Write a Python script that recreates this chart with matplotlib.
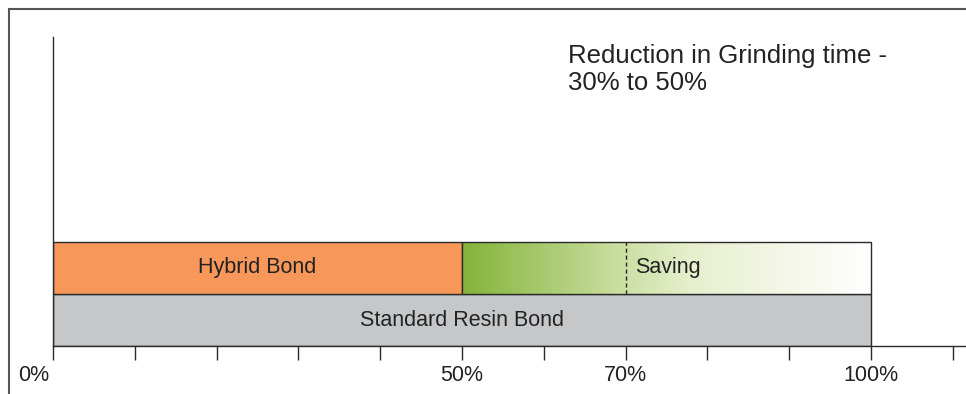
import numpy as np
import matplotlib
matplotlib.use('Agg')
import matplotlib.pyplot as plt
from matplotlib.colors import LinearSegmentedColormap
from matplotlib.lines import Line2D
from matplotlib.transforms import ScaledTranslation

plt.rcParams['font.family'] = ['Liberation Sans', 'DejaVu Sans']

# ---- data ----
std_label, std_value = 'Standard Resin Bond', 100
hyb_label, hyb_value = 'Hybrid Bond', 50
saving_label = 'Saving'
saving_mark = 70            # dashed line inside the saving block
tick_pos = list(range(0, 111, 10))
tick_lbl = {0: '0%', 50: '50%', 70: '70%', 100: '100%'}
note = 'Reduction in Grinding time -\n30% to 50%'

# gradient of the saving block (position in %, colour)
grad_stops = [(50, '#84b43a'), (70, '#cde0a6'), (78, '#e7efcd'), (100, '#ffffff')]

ORANGE = '#f8975a'
GREY = '#c6c7c9'
EDGE = '#2a2a2a'
TXT = '#222222'

W, H = 966, 394
fig = plt.figure(figsize=(W / 100, H / 100), dpi=100)
# axes: left 53px, bottom 346px, top 37px, runs to right edge
ax = fig.add_axes([53 / W, (H - 346) / H, 1 - 53 / W, (346 - 37) / H])
ax.set_xlim(0, (W - 53) / 8.18)
ax.set_ylim(0, 309 / 52)

# standard bar (y 0..1) and hybrid bar (y 1..2)
ax.barh(0.5, std_value, height=1, left=0, color=GREY, edgecolor=EDGE, lw=1, zorder=2)
ax.barh(1.5, hyb_value, height=1, left=0, color=ORANGE, edgecolor=EDGE, lw=1, zorder=2)

# saving block with gradient
g0, g1 = hyb_value, std_value
cmap = LinearSegmentedColormap.from_list(
    'sav', [((p - g0) / (g1 - g0), c) for p, c in grad_stops])
grad = np.linspace(0, 1, 400).reshape(1, -1)
ax.imshow(grad, cmap=cmap, extent=(g0, g1, 1, 2), aspect='auto', zorder=2,
          interpolation='bilinear')
ax.barh(1.5, g1 - g0, height=1, left=g0, fill=False, edgecolor=EDGE, lw=1, zorder=3)
ax.plot([saving_mark, saving_mark], [1, 2], color=EDGE, lw=1,
        ls=(0, (3, 2)), zorder=3)

ax.text(hyb_value / 2, 1.5, hyb_label, ha='center', va='center',
        fontsize=15.5, color=TXT, zorder=4)
ax.text(saving_mark + 1.1, 1.5, saving_label, ha='left', va='center',
        fontsize=15.5, color=TXT, zorder=4)
ax.text(std_value / 2, 0.5, std_label, ha='center', va='center',
        fontsize=15.5, color=TXT, zorder=4)

ax.text(63.0, 5.80, note, ha='left', va='top', fontsize=18.5,
        color=TXT, linespacing=1.12)

# axes styling
for s in ['top', 'right']:
    ax.spines[s].set_visible(False)
for s in ['left', 'bottom']:
    ax.spines[s].set_color(EDGE)
    ax.spines[s].set_linewidth(1)
ax.set_yticks([])
ax.set_xticks(tick_pos)
ax.set_xticklabels([tick_lbl.get(t, '') for t in tick_pos])
ax.tick_params(axis='x', length=10, width=1, color=EDGE, pad=4,
               labelsize=15.5, labelcolor=TXT)
# the 0% label sits left of its tick
lab0 = ax.get_xticklabels()[0]
lab0.set_transform(lab0.get_transform() + ScaledTranslation(-19 / 100, 0, fig.dpi_scale_trans))

# frame of the picture (top and left only)
fig.add_artist(Line2D([8.5 / W, 1], [1 - 8.5 / H, 1 - 8.5 / H], color='#555555', lw=1.5))
fig.add_artist(Line2D([8.5 / W, 8.5 / W], [0, 1 - 8.5 / H], color='#555555', lw=1.5))

fig.savefig('out.png', dpi=100)
